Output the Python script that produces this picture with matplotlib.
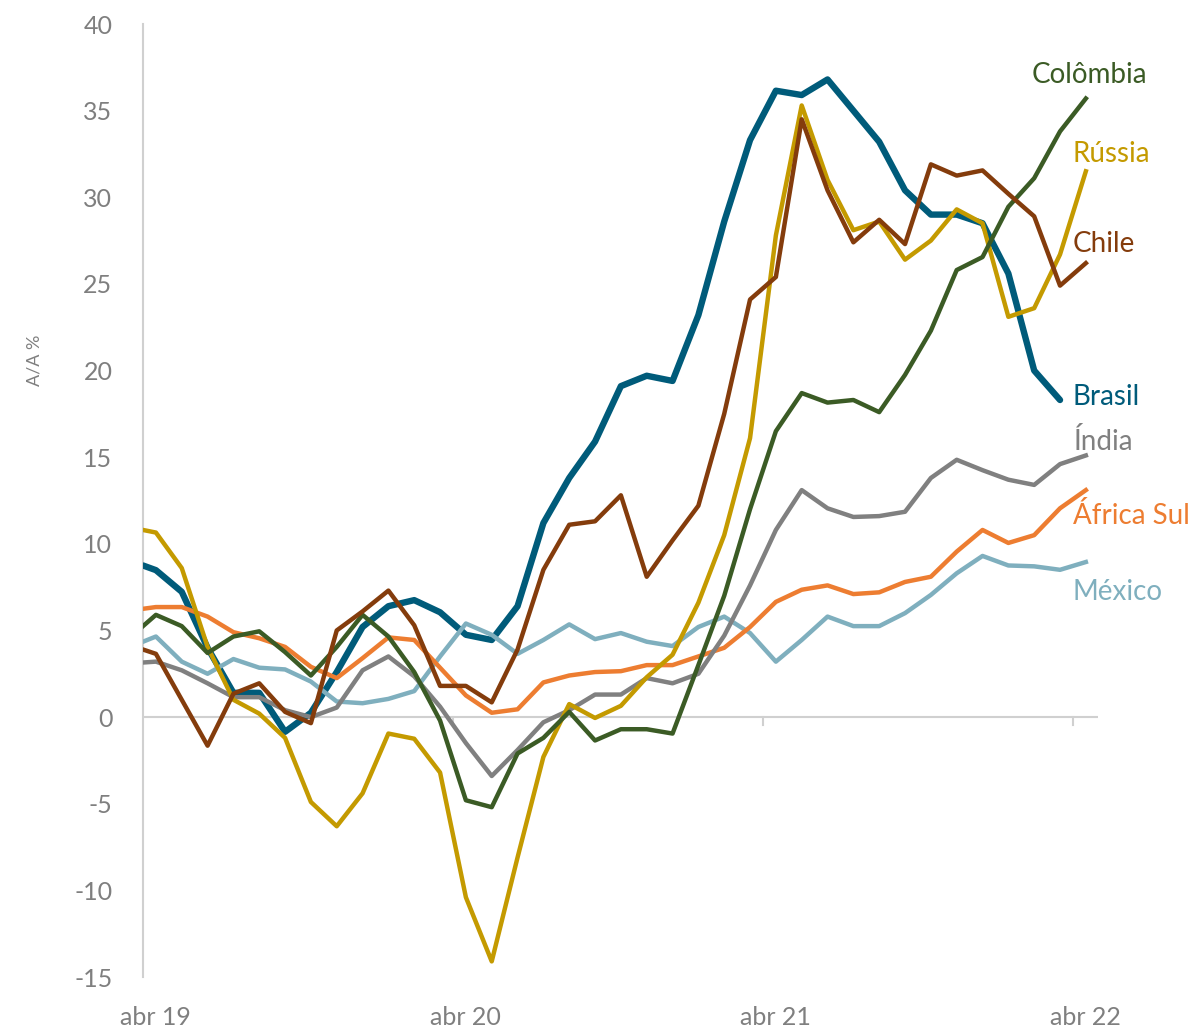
import matplotlib
matplotlib.use("Agg")
import matplotlib.pyplot as plt

plt.rcParams["font.family"] = ["Lato", "DejaVu Sans"]
plt.rcParams["axes.unicode_minus"] = False

# months since abr 19 (first point sits on the axis start, then mid-month)
months = [0.0] + [m + 0.5 for m in range(37)]

brasil = [8.75, 8.48, 7.23, 4.0, 1.4, 1.4, -0.85, 0.25, 2.6, 5.2, 6.4, 6.75,
          6.05, 4.75, 4.45, 6.4, 11.2, 13.8, 15.9, 19.1, 19.7, 19.4, 23.2, 28.6,
          33.3, 36.15, 35.9, 36.8, 35.0, 33.2, 30.4, 29.0, 29.0, 28.5, 25.6, 20.0,
          18.3]
russia = [10.8, 10.65, 8.6, 4.05, 1.0, 0.2, -1.2, -4.9, -6.3, -4.4, -0.95, -1.25,
          -3.2, -10.4, -14.1, -8.1, -2.3, 0.75, -0.05, 0.65, 2.3, 3.6, 6.6, 10.5,
          16.1, 27.8, 35.3, 31.0, 28.1, 28.6, 26.4, 27.5, 29.3, 28.5, 23.1, 23.6,
          26.7, 31.5]
chile = [3.9, 3.65, 1.0, -1.65, 1.35, 1.95, 0.3, -0.35, 5.0, 6.1, 7.3, 5.3,
         1.8, 1.8, 0.85, 3.9, 8.5, 11.1, 11.3, 12.8, 8.1, 10.2, 12.2, 17.5,
         24.1, 25.4, 34.5, 30.4, 27.4, 28.7, 27.3, 31.9, 31.25, 31.55, 30.2, 28.9,
         24.9, 26.2]
colombia = [5.25, 5.9, 5.25, 3.7, 4.65, 4.95, 3.75, 2.4, 4.05, 5.9, 4.65, 2.6,
            -0.2, -4.8, -5.2, -2.1, -1.2, 0.3, -1.35, -0.7, -0.7, -0.95, 3.0, 7.0,
            12.0, 16.5, 18.7, 18.15, 18.3, 17.6, 19.75, 22.3, 25.8, 26.55, 29.45, 31.1,
            33.8, 35.7]
india = [3.15, 3.2, 2.7, 1.95, 1.15, 1.15, 0.4, 0.0, 0.55, 2.7, 3.5, 2.35,
         0.6, -1.5, -3.4, -1.9, -0.3, 0.4, 1.3, 1.3, 2.25, 1.95, 2.5, 4.7,
         7.6, 10.8, 13.1, 12.05, 11.55, 11.6, 11.85, 13.8, 14.85, 14.25, 13.7, 13.4,
         14.6, 15.1]
africa_sul = [6.25, 6.35, 6.35, 5.8, 4.9, 4.55, 4.05, 2.9, 2.25, 3.4, 4.6, 4.45,
              2.85, 1.25, 0.25, 0.45, 2.0, 2.4, 2.6, 2.65, 3.0, 3.0, 3.5, 4.0,
              5.2, 6.65, 7.35, 7.6, 7.1, 7.2, 7.8, 8.1, 9.55, 10.8, 10.05, 10.5,
              12.05, 13.1]
mexico = [4.35, 4.65, 3.2, 2.5, 3.35, 2.85, 2.75, 2.05, 0.9, 0.8, 1.05, 1.5,
          3.5, 5.4, 4.75, 3.65, 4.45, 5.35, 4.5, 4.85, 4.35, 4.1, 5.2, 5.8,
          4.85, 3.2, 4.45, 5.8, 5.25, 5.25, 6.0, 7.05, 8.3, 9.3, 8.75, 8.7,
          8.5, 8.95]

tick_pos = [0.5, 12.5, 24.5, 36.5]
tick_labels = ["abr 19", "abr 20", "abr 21", "abr 22"]

C = {"br": "#005B7A", "ru": "#C49A00", "cl": "#843C0C", "co": "#3B5B25",
     "in": "#808080", "za": "#ED7D31", "mx": "#7FAFBE"}
GRID = "#D0D0D0"
TXT = "#7F7F7F"

fig = plt.figure(figsize=(11.98, 10.35), dpi=100)
ax = fig.add_axes([143/1198, 1-977/1035, (1098-143)/1198, (977-24)/1035])

# ── series ───────────────────────────────────────────────────
ax.plot(months[:len(brasil)], brasil, color=C["br"], lw=4.6, solid_capstyle="round", zorder=3)
ax.plot(months, mexico, color=C["mx"], lw=3.2, zorder=4)
ax.plot(months, africa_sul, color=C["za"], lw=3.2, zorder=4)
ax.plot(months, india, color=C["in"], lw=3.2, zorder=4)
ax.plot(months, russia, color=C["ru"], lw=3.2, zorder=5)
ax.plot(months, colombia, color=C["co"], lw=3.2, zorder=5)
ax.plot(months, chile, color=C["cl"], lw=3.2, zorder=6)

# ── end labels ───────────────────────────────────────────────
lab = dict(fontsize=20, va="center", ha="left")
ax.text(34.4, 37.05, "Colômbia", color=C["co"], **lab)
ax.text(36.0, 32.5, "Rússia", color=C["ru"], **lab)
ax.text(36.0, 27.3, "Chile", color=C["cl"], **lab)
ax.text(36.0, 18.5, "Brasil", color=C["br"], **lab)
ax.text(36.0, 15.9, "Índia", color=C["in"], **lab)
ax.text(36.0, 11.66, "África Sul", color=C["za"], **lab)
ax.text(36.0, 7.2, "México", color=C["mx"], **lab)

# ── axes ─────────────────────────────────────────────────────
ax.set_xlim(0, 36.97)
ax.set_ylim(-15, 40)
ax.set_yticks(range(-15, 41, 5))
ax.set_xticks(tick_pos)
ax.set_xticklabels(tick_labels)
ax.tick_params(axis="x", length=0, pad=21, labelsize=18, labelcolor=TXT)
ax.tick_params(axis="y", length=0, pad=22, labelsize=18, labelcolor=TXT)

for s in ["top", "right", "bottom"]:
    ax.spines[s].set_visible(False)
ax.spines["left"].set_color(GRID)
ax.spines["left"].set_linewidth(1.5)

ax.axhline(0, color=GRID, lw=1.5, zorder=1)
for t in [12, 24, 36]:
    ax.plot([t, t], [0, -0.45], color=GRID, lw=1.5, zorder=1)

fig.text(35/1198, 1-360/1035, "A/A %", rotation=90, ha="center", va="center",
         fontsize=13, color=TXT)

fig.savefig("out.png", dpi=100)
